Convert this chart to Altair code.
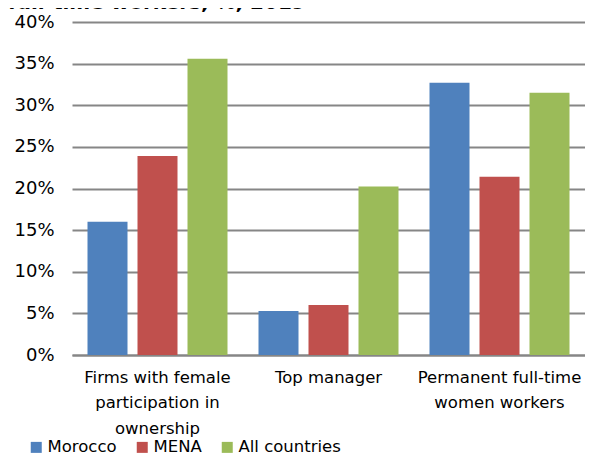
import altair as alt
import pandas as pd

categories = [
    "Firms with female|participation in|ownership",
    "Top manager",
    "Permanent full-time|women workers",
]
series = ["Morocco", "MENA", "All countries"]
morocco = [0.160, 0.053, 0.327]
mena = [0.239, 0.060, 0.214]
all_countries = [0.356, 0.2025, 0.315]
colors = ["#4F81BD", "#C0504D", "#9BBB59"]
y_ticks = [0, 0.05, 0.10, 0.15, 0.20, 0.25, 0.30, 0.35, 0.40]
title_text = "full-time workers, %, 2019"

rows = []
for s, vals in zip(series, [morocco, mena, all_countries]):
    for c, v in zip(categories, vals):
        rows.append({"category": c, "series": s, "value": v})
df = pd.DataFrame(rows)

FONT = "DejaVu Sans"
GRID = "#868686"

bars = alt.Chart(df).mark_bar().encode(
    x=alt.X(
        "category:N",
        sort=categories,
        scale=alt.Scale(paddingInner=0, paddingOuter=0),
        axis=alt.Axis(
            title=None, labelAngle=0, labelExpr="split(datum.label, '|')",
            domainColor=GRID, domainWidth=2, ticks=False,
            labelFontSize=16.5, labelLineHeight=25.5, labelPadding=14,
            labelColor="#000", labelFont=FONT, labelBaseline="top",
        ),
    ),
    xOffset=alt.XOffset("series:N", sort=series,
                        scale=alt.Scale(paddingInner=0.2, paddingOuter=0.31)),
    y=alt.Y(
        "value:Q",
        scale=alt.Scale(domain=[0, 0.4], nice=False),
        axis=alt.Axis(
            title=None, values=y_ticks, format=".0%", domain=False, ticks=False,
            gridColor=GRID, gridWidth=2, labelPadding=18, labelFontSize=18,
            labelFont=FONT, labelColor="#000",
        ),
    ),
    color=alt.Color(
        "series:N", sort=series,
        scale=alt.Scale(domain=series, range=colors),
        legend=alt.Legend(
            title=None, orient="none", legendX=-44, legendY=417,
            direction="horizontal", symbolType="square", symbolSize=121,
            labelFontSize=16.5, labelFont=FONT, labelColor="#000",
            columnPadding=17, labelOffset=3, symbolStrokeWidth=0,
        ),
    ),
)

title_layer = alt.Chart(pd.DataFrame({"t": [title_text]})).mark_text(
    align="left", baseline="alphabetic", fontSize=20, fontWeight="bold",
    font=FONT, color="#000",
).encode(text="t:N", x=alt.value(-64), y=alt.value(-13))

chart = alt.layer(bars, title_layer).properties(
    width=513, height=333,
    autosize=alt.AutoSizeParams(type="none"),
    padding={"left": 64, "top": 14, "right": 0, "bottom": 101},
).configure_view(stroke=None)

chart.save("out.html", embed_options={"renderer": "svg", "actions": False})
